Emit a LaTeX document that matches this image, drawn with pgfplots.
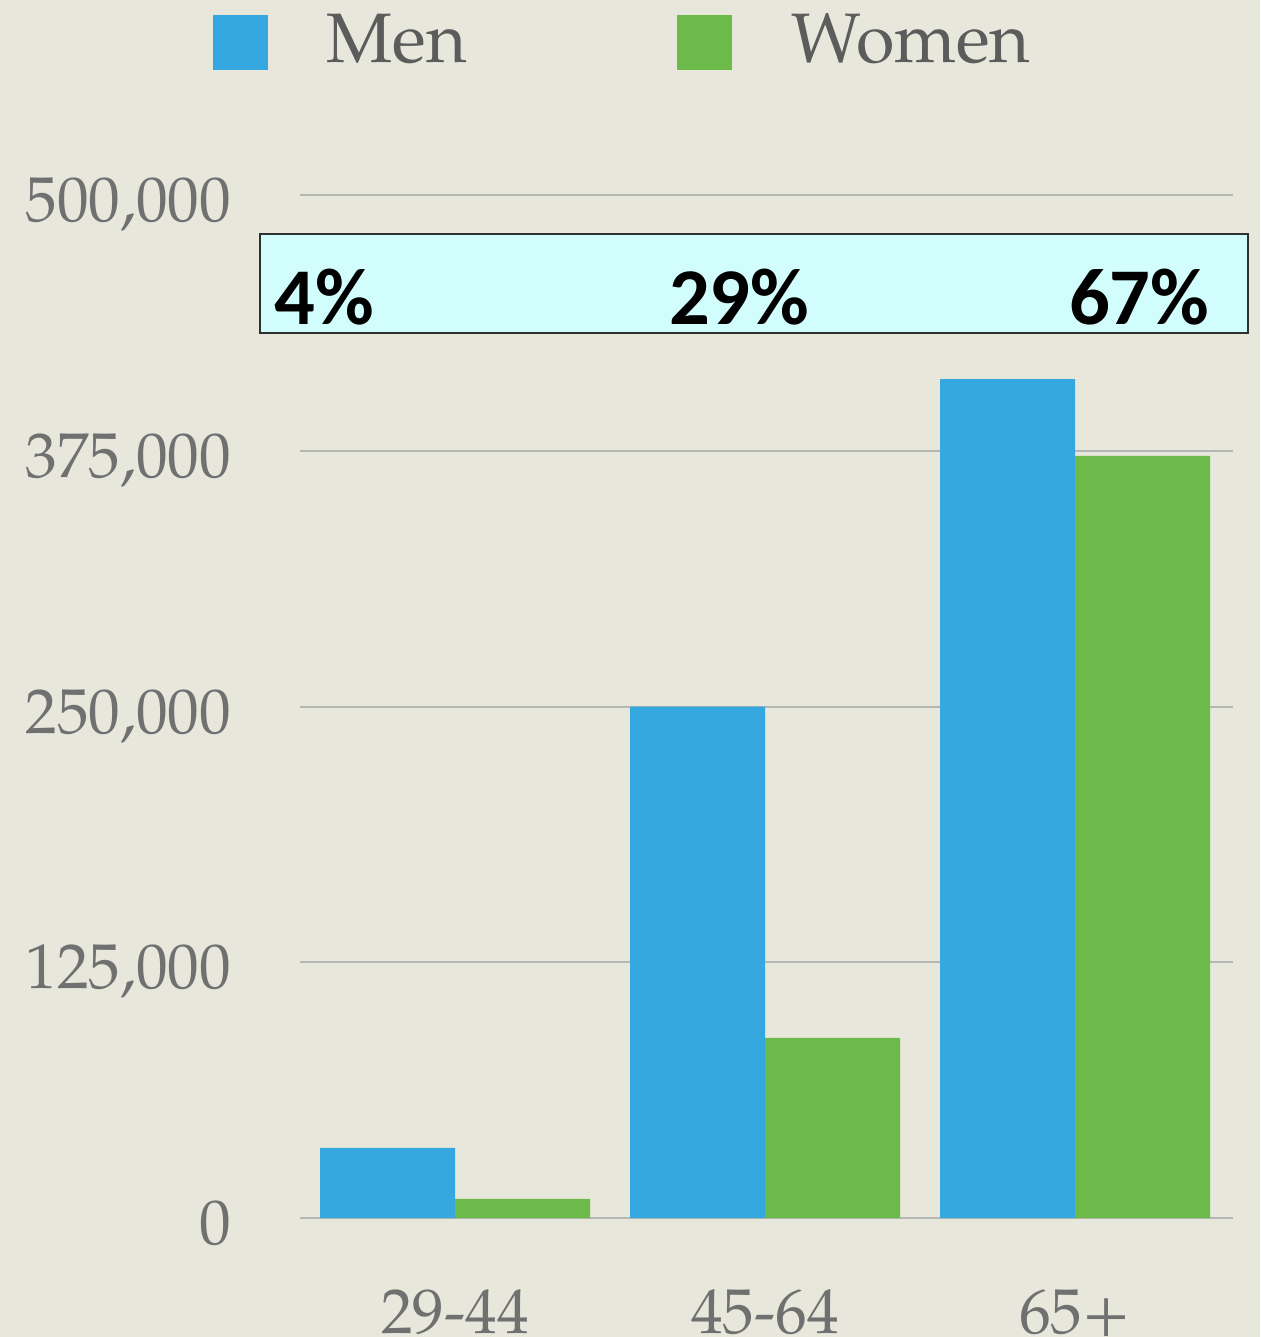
\documentclass[border=0pt]{standalone}
\usepackage{fontspec}
\setmainfont{TeX Gyre Pagella}
\newfontfamily\calibri{Carlito}
\usepackage{pgfplots}
\pgfplotsset{compat=1.18}
\definecolor{bg}{HTML}{E8E7DC}
\definecolor{menblue}{HTML}{35A8DF}
\definecolor{womengreen}{HTML}{6CBA4A}
\definecolor{gridgray}{HTML}{B6B6B2}
\definecolor{ticktext}{HTML}{707070}
\definecolor{legendtext}{HTML}{5C5C5C}
\definecolor{boxcyan}{HTML}{D2FDFD}
\definecolor{boxedge}{HTML}{303030}
\begin{document}
\begin{tikzpicture}
\path[use as bounding box, fill=bg] (0pt,0pt) rectangle (378pt,-401.1pt);
\begin{axis}[
  at={(90pt,-365.4pt)}, anchor=south west,
  scale only axis, width=279.9pt, height=306.9pt,
  ybar, bar width=0.4355,
  xmin=-0.5, xmax=2.5097, ymin=0, ymax=500000,
  enlargelimits=false,
  scaled y ticks=false,
  xtick={0,1,2}, xticklabels={29-44,45-64,65+},
  ytick={0,125000,250000,375000,500000},
  yticklabels={0,{125,000},{250,000},{375,000},{500,000}},
  axis line style={draw=none},
  major tick length=0pt,
  tick style={draw=none},
  ymajorgrids, grid style={draw=gridgray, line width=0.6pt},
  tick label style={font=\fontsize{19}{19}\selectfont, text=ticktext},
  yticklabel style={anchor=base east, inner sep=0pt, xshift=-20.4pt, yshift=-8pt},
  xticklabel style={anchor=base, inner sep=0pt, yshift=-34.6pt},
  legend columns=2,
  legend image code/.code={\fill[#1,draw=none] (0pt,-9pt) rectangle (16.5pt,7.5pt);},
  legend style={at={(-0.0935,1.1496)}, anchor=west, draw=none, fill=none,
    inner sep=0pt, outer sep=0pt, column sep=0pt,
    font=\fontsize{21}{21}\selectfont, text=legendtext,
    nodes={inner sep=0pt},
    /tikz/every odd column/.append style={column sep=17.7pt},
    /tikz/every even column/.append style={column sep=63.0pt}},
  clip=false,
]
\addplot[fill=menblue, draw=none, bar shift=-0.21775] coordinates {(0,34300) (1,250000) (2,410000)};
\addplot[fill=womengreen, draw=none, bar shift=0.21775] coordinates {(0,9300) (1,88000) (2,372500)};
\legend{Men,Women}
\end{axis}
\begin{scope}[x=0.3pt,y=-0.3pt]
\draw[fill=boxcyan, draw=boxedge, line width=0.6pt] (259.5,233.5) rectangle (1247.5,332.5);
\node[anchor=base west, inner sep=0pt] at (274,324) {\calibri\bfseries\fontsize{24.15}{24.15}\selectfont 4\%};
\node[anchor=base west, inner sep=0pt] at (668.5,324) {\calibri\bfseries\fontsize{24.15}{24.15}\selectfont 29\%};
\node[anchor=base east, inner sep=0pt] at (1210,324) {\calibri\bfseries\fontsize{24.15}{24.15}\selectfont 67\%};
\end{scope}
\end{tikzpicture}
\end{document}
